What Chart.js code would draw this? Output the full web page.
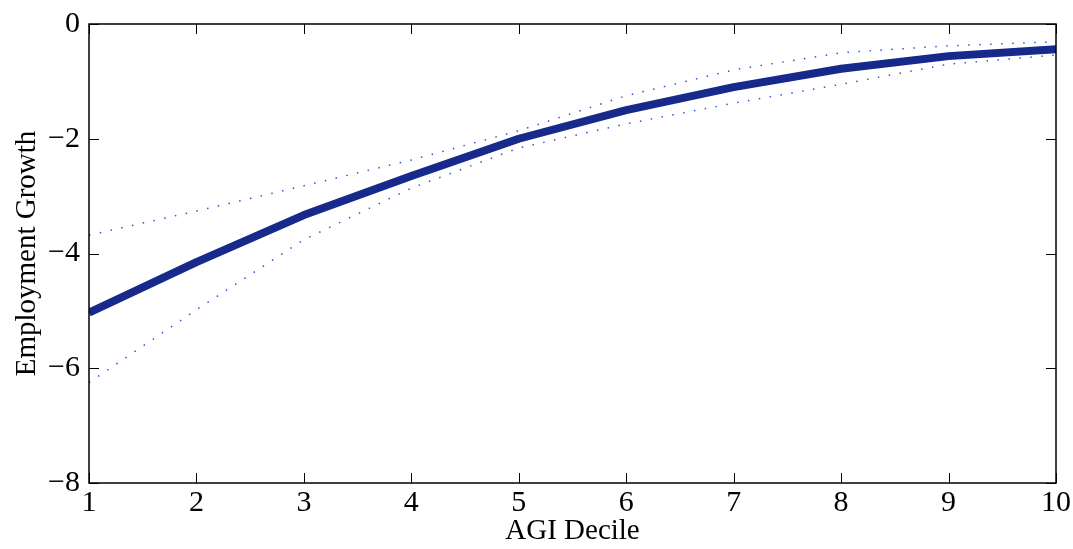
<!DOCTYPE html>
<html>
<head>
<meta charset="utf-8">
<script src="https://cdn.jsdelivr.net/npm/chart.js@4/dist/chart.umd.min.js"></script>
<style>
  html, body { margin: 0; padding: 0; background: #fff; }
  #wrap { width: 1073px; height: 549px; }
</style>
</head>
<body>
<div id="wrap"><canvas id="canvas" width="1073" height="549"></canvas></div>
<script>
// data
const deciles = [1, 2, 3, 4, 5, 6, 7, 8, 9, 10];
const growth = [-5.03, -4.15, -3.33, -2.65, -2.0, -1.5, -1.1, -0.78, -0.56, -0.44];
const upperBand = [-3.68, -3.26, -2.82, -2.37, -1.86, -1.25, -0.8, -0.5, -0.38, -0.31];
const lowerBand = [-6.25, -4.98, -3.76, -2.86, -2.16, -1.74, -1.38, -1.05, -0.7, -0.54];
const xTicks = [1, 2, 3, 4, 5, 6, 7, 8, 9, 10];
const yTicks = [-8, -6, -4, -2, 0];

const serif = "'Liberation Serif', 'Times New Roman', serif";

function pts(ys) {
  return deciles.map((x, i) => ({ x: x, y: ys[i] }));
}

// box + inner ticks like a matlab axes
const boxPlugin = {
  id: 'box',
  afterDatasetsDraw(chart) {
    const ctx = chart.ctx;
    const a = chart.chartArea;
    const xs = chart.scales.x, ys = chart.scales.y;
    ctx.save();
    ctx.strokeStyle = '#000';
    ctx.lineWidth = 1.5;
    ctx.strokeRect(a.left, a.top, a.right - a.left, a.bottom - a.top);
    ctx.beginPath();
    const tl = 10;
    xTicks.forEach(v => {
      const px = Math.round(xs.getPixelForValue(v)) + 0.5;
      ctx.moveTo(px, a.bottom); ctx.lineTo(px, a.bottom - tl);
      ctx.moveTo(px, a.top); ctx.lineTo(px, a.top + tl);
    });
    yTicks.forEach(v => {
      const py = Math.round(ys.getPixelForValue(v)) + 0.5;
      ctx.moveTo(a.left, py); ctx.lineTo(a.left + tl, py);
      ctx.moveTo(a.right, py); ctx.lineTo(a.right - tl, py);
    });
    ctx.lineWidth = 1;
    ctx.stroke();
    ctx.restore();
  }
};

const ctx = document.getElementById('canvas').getContext('2d');
const myChart = new Chart(ctx, {
  type: 'line',
  data: {
    datasets: [
      {
        label: 'upper',
        data: pts(upperBand),
        borderColor: '#3a4fd6',
        borderWidth: 1.5,
        borderDash: [1.5, 9.5],
        pointRadius: 0,
        fill: false
      },
      {
        label: 'lower',
        data: pts(lowerBand),
        borderColor: '#3a4fd6',
        borderWidth: 1.5,
        borderDash: [1.5, 9.5],
        pointRadius: 0,
        fill: false
      },
      {
        label: 'Employment Growth',
        data: pts(growth),
        borderColor: '#17298a',
        borderWidth: 8,
        pointRadius: 0,
        borderJoinStyle: 'round',
        fill: false
      }
    ]
  },
  options: {
    responsive: false,
    animation: false,
    layout: { padding: { top: 24, right: 17, left: 0, bottom: 0 } },
    plugins: { legend: { display: false }, tooltip: { enabled: false } },
    scales: {
      x: {
        type: 'linear',
        min: 1, max: 10,
        grid: { display: false },
        border: { display: false },
        afterFit(s) { s.height = 66; },
        afterBuildTicks(s) { s.ticks = xTicks.map(v => ({ value: v })); },
        ticks: {
          color: '#000',
          font: { family: serif, size: 30 },
          padding: -6,
          maxRotation: 0
        },
        title: {
          display: true,
          text: 'AGI Decile',
          color: '#000',
          font: { family: serif, size: 29 },
          padding: { top: -8, bottom: 0 }
        }
      },
      y: {
        min: -8, max: 0,
        grid: { display: false },
        border: { display: false },
        afterFit(s) { s.width = 89; },
        afterBuildTicks(s) { s.ticks = yTicks.map(v => ({ value: v })); },
        ticks: {
          color: '#000',
          font: { family: serif, size: 30 },
          padding: 1,
          callback: v => String(v).replace('-', '\u2212')
        },
        title: {
          display: true,
          text: 'Employment Growth',
          color: '#000',
          font: { family: serif, size: 29 },
          padding: { top: 10, bottom: 0 }
        }
      }
    }
  },
  plugins: [boxPlugin]
});
</script>
</body>
</html>
